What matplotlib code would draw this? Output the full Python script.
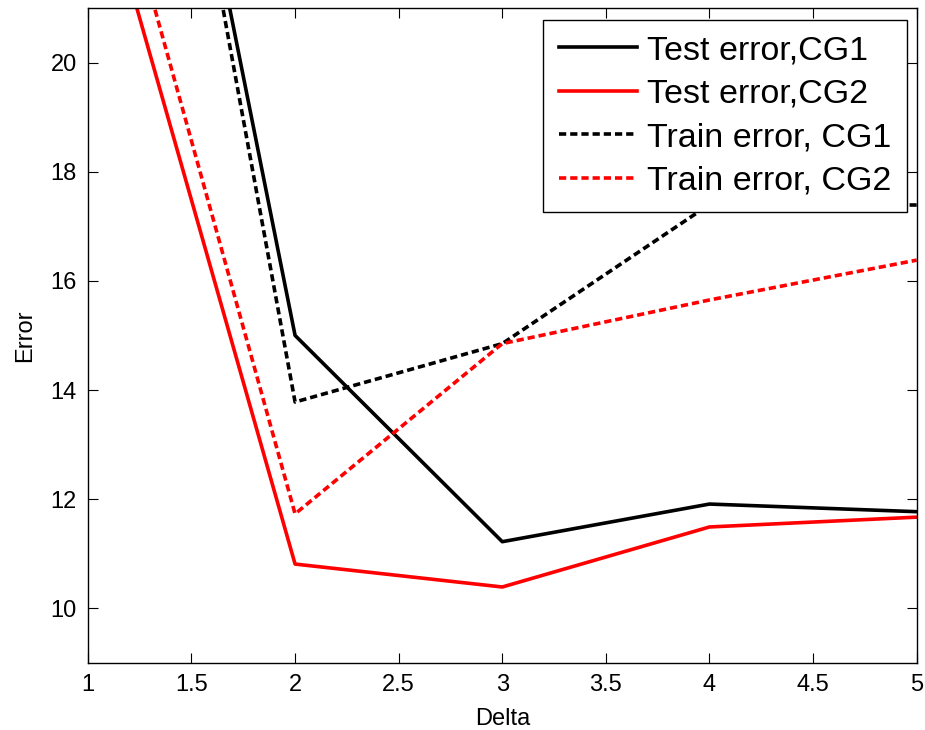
import matplotlib.pyplot as plt
import numpy as np

plt.rcParams['font.family'] = ['Liberation Sans', 'DejaVu Sans']

# data
delta = [1, 2, 3, 4, 5]
test_cg1 = [34.0, 15.0, 11.22, 11.91, 11.77]
test_cg2 = [24.15, 10.81, 10.39, 11.49, 11.67]
train_cg1 = [34.5, 13.78, 14.85, 17.4, 17.39]
train_cg2 = [25.4, 11.73, 14.85, 15.65, 16.38]
labels = ['Test error,CG1', 'Test error,CG2', 'Train error, CG1', 'Train error, CG2']

fig = plt.figure(figsize=(9.25, 7.3), dpi=100)
ax = fig.add_axes([0.095, 0.092, 0.896, 0.897])

dash = (0, (2.0, 1.1))
ax.plot(delta, test_cg1, color='black', lw=2.6, linestyle='-', label=labels[0])
ax.plot(delta, test_cg2, color='red', lw=2.6, linestyle='-', label=labels[1])
ax.plot(delta, train_cg1, color='black', lw=2.6, linestyle=dash, label=labels[2])
ax.plot(delta, train_cg2, color='red', lw=2.6, linestyle=dash, label=labels[3])

ax.set_xlim(1, 5)
ax.set_ylim(9, 21)
ax.set_xticks(np.arange(1, 5.01, 0.5))
ax.set_xticklabels(['1', '1.5', '2', '2.5', '3', '3.5', '4', '4.5', '5'])
ax.set_yticks([10, 12, 14, 16, 18, 20])
ax.tick_params(direction='in', length=7, width=0.8, top=True, right=True,
               labelsize=17, pad=8)
for s in ax.spines.values():
    s.set_linewidth(1.0)

ax.set_xlabel('Delta', fontsize=17, labelpad=9)
ax.set_ylabel('Error', fontsize=17, labelpad=10)

leg = ax.legend(loc='upper right', bbox_to_anchor=(0.988, 0.982), borderaxespad=0,
                fontsize=24.5, handlelength=2.3, handletextpad=0.3, labelspacing=0.37,
                fancybox=False, framealpha=1, edgecolor='black', borderpad=0.45)
leg.get_frame().set_linewidth(1.0)

fig.savefig('out.png', dpi=100)
